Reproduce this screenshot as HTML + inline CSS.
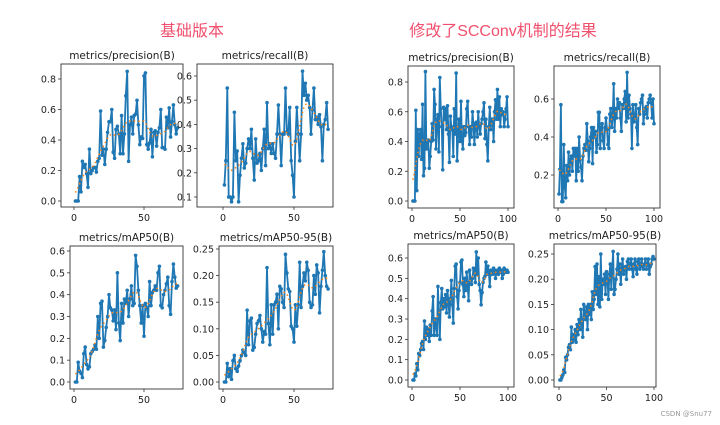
<!DOCTYPE html>
<html><head><meta charset="utf-8"><style>
html,body{margin:0;padding:0;background:#fff;width:720px;height:425px;overflow:hidden}
svg{display:block;font-family:"DejaVu Sans","Liberation Sans",sans-serif}
</style></head><body>
<svg id="c" width="720" height="425">
<text x="192" y="36" font-size="16" fill="#f0506e" text-anchor="middle" font-family="'Liberation Sans','Noto Sans CJK SC',sans-serif">基础版本</text>
<text x="503" y="36" font-size="16" fill="#f0506e" text-anchor="middle" font-family="'Liberation Sans','Noto Sans CJK SC',sans-serif">修改了SCConv机制的结果</text>
<text x="712" y="416" font-size="7" fill="#999" text-anchor="end">CSDN @Snu77</text>
</svg>
<script>
const basePrecision=[0,0,0,0.16,0.06,0.26,0.22,0.24,0.18,0.09,0.34,0.18,0.2,0.22,0.22,0.19,0.26,0.28,0.59,0.3,0.34,0.24,0.34,0.45,0.52,0.52,0.6,0.32,0.28,0.47,0.49,0.44,0.31,0.56,0.31,0.44,0.69,0.85,0.26,0.5,0.55,0.44,0.56,0.57,0.66,0.5,0.37,0.42,0.41,0.82,0.84,0.37,0.34,0.38,0.47,0.29,0.45,0.46,0.36,0.45,0.48,0.6,0.35,0.35,0.34,0.55,0.48,0.61,0.42,0.52,0.63,0.5,0.44,0.48];
const baseRecall=[0.15,0.25,0.55,0.1,0.1,0.08,0.1,0.45,0.25,0.29,0.08,0.19,0.26,0.32,0.22,0.24,0.3,0.34,0.3,0.38,0.26,0.17,0.34,0.24,0.25,0.28,0.21,0.3,0.38,0.23,0.49,0.3,0.32,0.28,0.32,0.28,0.26,0.36,0.48,0.36,0.23,0.36,0.36,0.55,0.37,0.36,0.47,0.25,0.19,0.1,0.33,0.47,0.36,0.25,0.36,0.62,0.52,0.57,0.5,0.52,0.47,0.36,0.46,0.55,0.42,0.43,0.4,0.44,0.39,0.25,0.4,0.42,0.49,0.38];
const baseMap50=[0,0,0.09,0.05,0.04,0.02,0.13,0.16,0.08,0.06,0.07,0.13,0.14,0.15,0.17,0.15,0.3,0.2,0.36,0.37,0.16,0.19,0.25,0.3,0.4,0.34,0.33,0.28,0.33,0.24,0.5,0.27,0.19,0.36,0.27,0.38,0.36,0.42,0.3,0.38,0.44,0.35,0.36,0.58,0.53,0.42,0.35,0.27,0.35,0.21,0.36,0.34,0.3,0.46,0.35,0.41,0.42,0.44,0.42,0.5,0.53,0.35,0.34,0.4,0.42,0.45,0.48,0.35,0.31,0.46,0.54,0.48,0.43,0.44];
const baseMap5095=[0,0,0.035,0.01,0.025,0.005,0.04,0.05,0.025,0.02,0.03,0.04,0.05,0.06,0.055,0.05,0.135,0.07,0.115,0.12,0.06,0.065,0.09,0.11,0.115,0.125,0.1,0.075,0.095,0.09,0.215,0.11,0.07,0.145,0.09,0.145,0.15,0.165,0.1,0.18,0.175,0.15,0.14,0.24,0.205,0.175,0.17,0.105,0.1,0.075,0.145,0.105,0.145,0.225,0.14,0.18,0.205,0.19,0.225,0.21,0.15,0.14,0.145,0.2,0.165,0.22,0.205,0.13,0.18,0.21,0.245,0.2,0.18,0.175];
const newPrecision=[0,0,0,0.61,0.07,0.48,0.3,0.45,0.48,0.28,0.65,0.17,0.22,0.87,0.35,0.4,0.41,0.22,0.3,0.4,0.52,0.41,0.75,0.65,0.35,0.55,0.58,0.33,0.83,0.62,0.5,0.21,0.63,0.55,0.62,0.48,0.64,0.45,0.26,0.57,0.5,0.48,0.3,0.62,0.45,0.86,0.27,0.44,0.55,0.4,0.67,0.41,0.35,0.5,0.44,0.46,0.62,0.67,0.5,0.38,0.5,0.43,0.6,0.52,0.38,0.52,0.53,0.43,0.6,0.5,0.45,0.52,0.55,0.6,0.66,0.42,0.55,0.38,0.27,0.5,0.63,0.48,0.55,0.55,0.4,0.6,0.68,0.55,0.75,0.55,0.7,0.5,0.62,0.58,0.6,0.5,0.55,0.62,0.7,0.5];
const newRecall=[0.1,0.23,0.57,0.06,0.06,0.36,0.14,0.08,0.25,0.17,0.32,0.2,0.28,0.3,0.22,0.34,0.3,0.34,0.17,0.34,0.22,0.4,0.28,0.24,0.17,0.3,0.34,0.36,0.33,0.47,0.38,0.27,0.34,0.4,0.45,0.26,0.45,0.4,0.43,0.32,0.36,0.53,0.53,0.34,0.45,0.47,0.38,0.34,0.45,0.5,0.44,0.36,0.34,0.52,0.55,0.45,0.5,0.68,0.43,0.55,0.5,0.6,0.55,0.58,0.5,0.43,0.57,0.55,0.6,0.64,0.48,0.74,0.5,0.62,0.55,0.52,0.34,0.57,0.48,0.5,0.57,0.45,0.36,0.55,0.52,0.58,0.6,0.62,0.47,0.52,0.55,0.56,0.5,0.58,0.6,0.62,0.58,0.5,0.6,0.47];
const newMap50=[0,0,0.03,0.02,0.08,0.05,0.13,0.12,0.15,0.18,0.19,0.15,0.29,0.2,0.26,0.22,0.25,0.19,0.27,0.22,0.34,0.41,0.22,0.3,0.26,0.22,0.46,0.32,0.2,0.38,0.45,0.35,0.4,0.36,0.42,0.33,0.44,0.38,0.31,0.4,0.49,0.37,0.28,0.45,0.56,0.57,0.41,0.35,0.44,0.48,0.58,0.59,0.47,0.41,0.5,0.44,0.53,0.46,0.39,0.54,0.5,0.47,0.5,0.55,0.54,0.48,0.63,0.52,0.6,0.47,0.44,0.37,0.43,0.48,0.5,0.51,0.58,0.52,0.56,0.53,0.46,0.54,0.53,0.52,0.55,0.54,0.5,0.53,0.54,0.52,0.55,0.53,0.54,0.5,0.52,0.55,0.54,0.53,0.54,0.53];
const newMap5095=[0,0,0.005,0.01,0.02,0.015,0.045,0.04,0.05,0.065,0.07,0.06,0.105,0.075,0.09,0.08,0.1,0.075,0.11,0.09,0.12,0.1,0.14,0.11,0.085,0.15,0.135,0.12,0.145,0.1,0.15,0.13,0.15,0.12,0.175,0.14,0.16,0.225,0.17,0.23,0.15,0.205,0.145,0.25,0.16,0.2,0.19,0.21,0.17,0.215,0.2,0.16,0.21,0.23,0.18,0.22,0.255,0.17,0.18,0.2,0.22,0.25,0.21,0.23,0.19,0.22,0.24,0.21,0.22,0.225,0.2,0.235,0.24,0.22,0.23,0.24,0.22,0.205,0.23,0.24,0.22,0.21,0.235,0.24,0.22,0.23,0.24,0.225,0.22,0.23,0.24,0.22,0.23,0.24,0.21,0.225,0.23,0.24,0.245,0.24];

const NS="http://www.w3.org/2000/svg";
const svg=document.getElementById('c');
function mk(tag,attrs,parent){const e=document.createElementNS(NS,tag);for(const k in attrs)e.setAttribute(k,attrs[k]);(parent||svg).appendChild(e);return e;}
function smooth(d){const out=[];const s=3;for(let i=0;i<d.length;i++){let a=0,w=0;for(let j=Math.max(0,i-9);j<=Math.min(d.length-1,i+9);j++){const g=Math.exp(-((j-i)*(j-i))/(2*s*s));a+=g*d[j];w+=g;}out.push(a/w);}return out;}

function panel(name,title,data,box,yc,xc,yticks,xticks,ydec){
  const g=mk('g',{});
  
  
  const [L,T,R,B]=box;
  const ys=v=>yc[1]+(v-yc[0])*(yc[3]-yc[1])/(yc[2]-yc[0]);
  const xs=v=>xc[1]+(v-xc[0])*(xc[3]-xc[1])/(xc[2]-xc[0]);
  const t=mk('text',{x:(L+R)/2,y:T-5,'font-size':10.5,'text-anchor':'middle',fill:'#222'},g);
  t.textContent=title;
  
  
  yticks.forEach(v=>{const y=ys(v);mk('line',{x1:L-3,x2:L,y1:y,y2:y,stroke:'#333','stroke-width':0.8},g);
    const tx=mk('text',{x:L-5,y:y+3.5,'font-size':9.5,'text-anchor':'end',fill:'#222'},g);tx.textContent=v.toFixed(ydec);
    
    });
  xticks.forEach(v=>{const x=xs(v);mk('line',{x1:x,x2:x,y1:B,y2:B+3,stroke:'#333','stroke-width':0.8},g);
    const tx=mk('text',{x:x,y:B+14,'font-size':9.5,'text-anchor':'middle',fill:'#222'},g);tx.textContent=v;
    
    });
  const pts=data.map((v,i)=>xs(i+1).toFixed(1)+','+ys(v).toFixed(1)).join(' ');
  const pl=mk('polyline',{points:pts,fill:'none',stroke:'#1f77b4','stroke-width':1.8,'stroke-linejoin':'round'},g);
  
  
  data.forEach((v,i)=>{const c=mk('circle',{cx:xs(i+1),cy:ys(v),r:1.8,fill:'#1f77b4'},g);
    
    });
  const sm=smooth(data);
  const sp=mk('polyline',{points:sm.map((v,i)=>xs(i+1).toFixed(1)+','+ys(v).toFixed(1)).join(' '),fill:'none',stroke:'#ff7f0e','stroke-width':1.5,'stroke-dasharray':'1.5,3'},g);
  
  
  const fr=mk('rect',{x:L,y:T,width:R-L,height:B-T,fill:'none',stroke:'#333','stroke-width':0.9},g);
  
  
}
panel('base-precision','metrics/precision(B)',basePrecision,[61,64,183,207],[0,201,0.8,79],[0,74,50,144],[0,0.2,0.4,0.6,0.8],[0,50],1);
panel('base-recall','metrics/recall(B)',baseRecall,[197,64,333,207],[0.1,197,0.6,76],[0,223,50,294],[0.1,0.2,0.3,0.4,0.5,0.6],[0,50],1);
panel('base-map50','metrics/mAP50(B)',baseMap50,[70,246,183,389],[0,382,0.6,251],[0,74,50,144],[0,0.1,0.2,0.3,0.4,0.5,0.6],[0,50],1);
panel('base-map50-95','metrics/mAP50-95(B)',baseMap5095,[219,246,333,389],[0,382,0.25,249],[0,223,50,294],[0,0.05,0.1,0.15,0.2,0.25],[0,50],2);
panel('new-precision','metrics/precision(B)',newPrecision,[408,66,514,208],[0,201,0.8,82],[0,412,100,508],[0,0.2,0.4,0.6,0.8],[0,50,100],1);
panel('new-recall','metrics/recall(B)',newRecall,[554,66,660,208],[0.2,175,0.6,99],[0,558,100,654],[0.2,0.4,0.6],[0,50,100],1);
panel('new-map50','metrics/mAP50(B)',newMap50,[408,244,514,387],[0,380,0.6,258],[0,412,100,508],[0,0.1,0.2,0.3,0.4,0.5,0.6],[0,50,100],1);
panel('new-map50-95','metrics/mAP50-95(B)',newMap5095,[554,244,656,387],[0,380,0.25,254],[0,559,100,654],[0,0.05,0.1,0.15,0.2,0.25],[0,50,100],2);
</script>
</body></html>
